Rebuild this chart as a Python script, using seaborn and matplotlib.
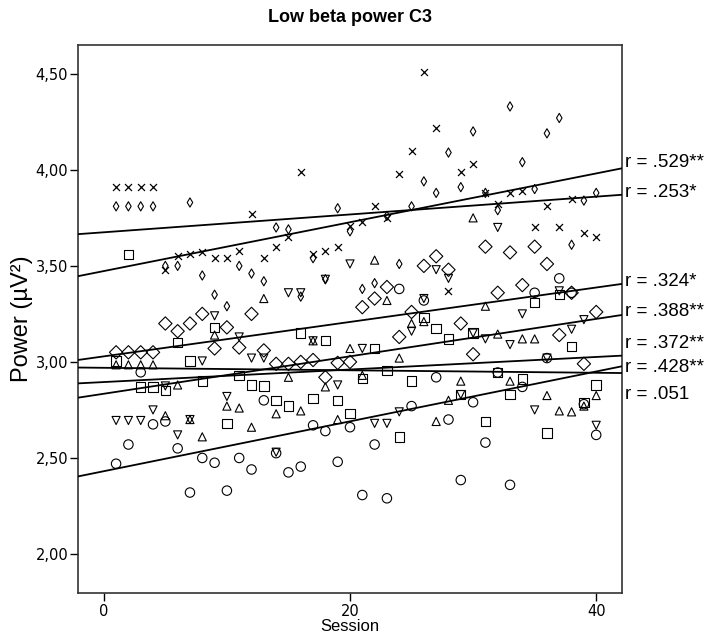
import numpy as np
import pandas as pd
import matplotlib
matplotlib.use("Agg")
import matplotlib.pyplot as plt
from matplotlib.ticker import FuncFormatter
import seaborn as sns

sns.set_style("ticks")
plt.rcParams['font.family'] = ['Liberation Sans', 'DejaVu Sans']
plt.rcParams['text.color'] = 'black'
plt.rcParams['axes.labelcolor'] = 'black'

# sessions 1..40, one value per session for every group
sessions = list(range(1, 41))

power_cross = [3.91, 3.91, 3.91, 3.91, 3.48, 3.55, 3.56, 3.57, 3.54, 3.54,
               3.58, 3.77, 3.54, 3.60, 3.65, 3.99, 3.56, 3.58, 3.60, 3.71,
               3.73, 3.81, 3.75, 3.98, 4.10, 4.51, 4.22, 3.37, 3.99, 4.03,
               3.88, 3.82, 3.88, 3.89, 3.70, 3.81, 3.70, 3.85, 3.67, 3.65]
power_thin = [3.81, 3.81, 3.81, 3.81, 3.50, 3.50, 3.83, 3.45, 3.35, 3.29,
              3.50, 3.46, 3.42, 3.70, 3.69, 3.34, 3.54, 3.43, 3.80, 3.68,
              3.38, 3.41, 3.76, 3.51, 3.81, 3.94, 3.88, 4.09, 3.91, 4.20,
              3.88, 3.79, 4.33, 4.04, 3.90, 4.19, 4.27, 3.61, 3.84, 3.88]
power_diamond = [3.05, 3.05, 3.05, 3.05, 3.20, 3.16, 3.20, 3.25, 3.07, 3.18,
                 3.075, 3.25, 3.06, 2.99, 2.99, 3.00, 3.01, 2.92, 2.995, 3.00,
                 3.285, 3.33, 3.39, 3.13, 3.26, 3.50, 3.55, 3.48, 3.20, 3.04,
                 3.60, 3.36, 3.57, 3.40, 3.60, 3.51, 3.14, 3.36, 2.99, 3.26]
power_down = [2.695, 2.695, 2.695, 2.75, 2.875, 2.62, 2.70, 3.005, 3.24, 2.82,
              3.13, 3.02, 3.02, 2.53, 3.36, 3.36, 3.11, 3.43, 2.88, 3.51,
              3.07, 2.68, 2.68, 2.74, 3.16, 3.33, 3.48, 3.435, 2.83, 3.15,
              3.12, 3.70, 3.09, 3.25, 2.75, 3.02, 3.37, 3.17, 3.22, 2.67]
power_up = [2.985, 2.985, 2.985, 2.985, 2.72, 2.88, 2.70, 2.61, 3.14, 2.77,
            2.76, 2.66, 3.33, 2.73, 2.92, 2.745, 3.11, 2.87, 2.70, 3.07,
            2.93, 3.53, 3.32, 3.02, 3.20, 3.21, 2.69, 2.80, 2.90, 3.75,
            3.29, 3.145, 2.90, 3.12, 3.12, 2.825, 2.745, 2.74, 2.77, 2.825]
power_circle = [2.47, 2.57, 2.946, 2.675, 2.69, 2.55, 2.32, 2.50, 2.475, 2.33,
                2.50, 2.44, 2.80, 2.525, 2.425, 2.455, 2.67, 2.64, 2.48, 2.66,
                2.307, 2.57, 2.29, 3.38, 2.77, 3.32, 2.92, 2.70, 2.385, 2.79,
                2.58, 2.945, 2.36, 2.87, 3.36, 3.02, 3.435, 3.36, 2.78, 2.62]
power_square = [3.005, 3.56, 2.87, 2.87, 2.85, 3.10, 3.005, 2.90, 3.18, 2.68,
                2.93, 2.88, 2.875, 2.80, 2.77, 3.15, 2.81, 3.11, 2.80, 2.73,
                2.915, 3.07, 2.955, 2.61, 2.90, 3.23, 3.175, 3.12, 2.83, 3.15,
                2.69, 2.945, 2.83, 2.91, 3.31, 2.63, 3.35, 3.08, 2.79, 2.88]

r_labels = ["r = .529**", "r = .253*", "r = .324*", "r = .388**",
            "r = .372**", "r = .428**", "r = .051"]
label_y = [4.036, 3.88, 3.417, 3.26, 3.094, 2.969, 2.828]

df = pd.DataFrame({
    'session': sessions,
    'cross': power_cross, 'thin': power_thin, 'diamond': power_diamond,
    'down': power_down, 'up': power_up, 'circle': power_circle,
    'square': power_square,
})

# column, marker, size
styles = [
    ('cross', 'x', 25),
    ('thin', 'd', 22),
    ('diamond', 'D', 46),
    ('down', 'v', 34),
    ('up', '^', 34),
    ('circle', 'o', 46),
    ('square', 's', 46),
]

fig = plt.figure(figsize=(7.15, 6.39), dpi=100)
ax = fig.add_axes([0.109, 0.072, 0.761, 0.8576])
ax.set_xlim(-2.1, 42.1)
ax.set_ylim(1.797, 4.65)

for col, mk, sz in styles:
    if mk == 'x':
        skw = dict(s=sz, color='black', linewidths=0.9, alpha=1, zorder=3)
    else:
        skw = dict(s=sz, facecolors='none', edgecolors='black',
                   linewidths=0.8, alpha=1, zorder=3)
    sns.regplot(data=df, x='session', y=col, ax=ax, ci=None, truncate=False,
                marker=mk, color='black', scatter_kws=skw,
                line_kws=dict(color='black', lw=1.3, zorder=4))

ax.set_xlim(-2.1, 42.1)
ax.set_ylim(1.797, 4.65)

for txt, yy in zip(r_labels, label_y):
    ax.annotate(txt, xy=(1.006, yy), xycoords=('axes fraction', 'data'),
                va='center', ha='left', fontsize=13.5, color='black',
                annotation_clip=False)

ax.set_xticks([0, 20, 40])
ax.set_yticks(np.arange(2.0, 4.51, 0.5))
ax.yaxis.set_major_formatter(FuncFormatter(lambda v, p: f"{v:.2f}".replace('.', ',')))
ax.tick_params(direction='out', length=6, width=1, labelsize=10.5,
               colors='black')
ax.tick_params(axis='y', pad=1)
ax.tick_params(axis='x', pad=2)
for lab in ax.get_xticklabels() + ax.get_yticklabels():
    lab.set_fontfamily('DejaVu Sans')
for sp in ax.spines.values():
    sp.set_visible(True)
    sp.set_color('#333333')
    sp.set_linewidth(1.2)

ax.set_xlabel('Session', fontsize=12, labelpad=0, color='black')
ax.set_ylabel('Power (µV²)', fontsize=17, labelpad=2, color='black')
fig.text(0.49, 0.973, 'Low beta power C3', ha='center', va='center',
         fontsize=13, fontweight='bold', color='black')

fig.savefig('out.png', dpi=100)
